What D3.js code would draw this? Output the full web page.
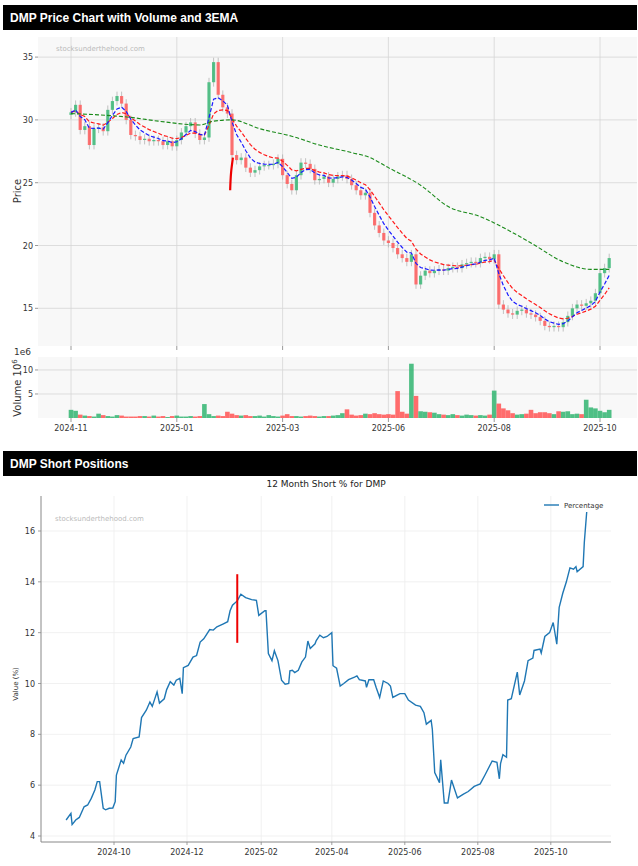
<!DOCTYPE html>
<html><head><meta charset="utf-8">
<script src="https://cdn.jsdelivr.net/npm/d3@7"></script>
<style>body{margin:0;background:#fff;font-family:"DejaVu Sans",sans-serif}</style>
</head><body><svg id="c" width="638" height="866"></svg>
<script>
// ---- Price chart data (sampled trading sessions) ----
const closes = [30.6,31.2,29.2,29.5,28.0,29.3,29.4,29.1,30.8,31.5,31.9,31.3,30.0,28.8,28.7,28.4,28.5,28.3,28.4,28.3,
28.0,28.3,27.9,28.4,29.0,29.5,29.8,28.9,28.4,28.6,33.0,34.6,32.0,31.0,30.5,27.2,26.8,27.0,26.2,25.8,
26.0,26.3,26.4,26.4,26.5,26.9,25.6,24.9,24.4,25.6,26.6,26.5,26.1,25.2,25.3,25.5,25.0,25.3,25.5,25.6,
25.3,24.8,24.4,24.0,24.2,22.6,21.6,21.0,20.4,20.2,19.8,19.3,19.0,18.7,19.3,16.9,17.6,18.0,17.8,18.0,
18.1,18.0,18.2,18.3,18.2,18.5,18.6,18.7,18.6,19.0,19.1,18.9,19.3,15.3,14.9,14.6,14.5,14.8,14.9,14.6,
14.5,14.3,14.0,13.6,13.5,13.6,13.5,13.9,14.4,15.0,15.3,15.2,15.4,15.6,16.2,17.8,18.2,19.0];
const volumes = [1.7,1.5,0.7,0.5,0.4,0.3,0.9,0.6,0.4,0.3,0.6,0.5,0.3,0.3,0.3,0.4,0.4,0.3,0.5,0.3,
0.4,0.2,0.4,0.5,0.3,0.3,0.4,0.3,0.4,2.9,0.8,0.4,0.5,0.4,1.3,0.9,0.6,0.5,0.6,0.4,
0.4,0.5,0.3,0.6,0.4,0.3,0.5,0.8,0.4,0.4,0.3,0.4,0.5,0.4,0.3,0.4,0.4,0.5,0.6,1.0,
1.8,0.7,0.5,0.6,0.9,0.8,1.0,0.8,0.7,0.8,0.7,5.6,1.3,0.9,11.3,4.6,1.4,1.3,1.2,1.1,
0.8,0.7,0.6,0.8,0.6,0.5,0.7,0.6,0.5,0.6,0.5,0.7,5.7,3.0,2.0,1.6,1.0,0.7,0.8,0.9,
1.7,1.0,1.2,1.2,1.0,0.8,1.4,1.3,1.4,0.8,0.9,0.8,3.8,2.2,2.0,1.5,1.2,1.7];
const longEmaIdx = [0,6,13,19,28,31,35,41,48,54,61,65,69,76,82,89,92,100,107,113,117];
const longEmaVal = [30.5,30.4,30.2,29.9,29.6,29.9,30.0,29.3,28.7,28.0,27.4,27.0,26.2,24.8,23.1,22.3,21.8,20.2,18.7,18.1,18.1];
const tickIdx = [0,23,46,69,92,115];
const tickLabels = ["2024-11","2025-01","2025-03","2025-06","2025-08","2025-10"];
const priceTicks = [15,20,25,30,35];
const volTicks = [5,10];
const markIdx = [34.6,34.8,35.2];
const markVal = [24.4,25.8,27.0];

// ---- Short interest data ----
const shortDates = ["2024-08-22","2024-08-26","2024-08-27","2024-08-30","2024-09-02","2024-09-06","2024-09-09","2024-09-12","2024-09-15","2024-09-17",
"2024-09-19","2024-09-22","2024-09-24","2024-09-27","2024-09-30","2024-10-02","2024-10-03","2024-10-07","2024-10-09","2024-10-11",
"2024-10-15","2024-10-17","2024-10-22","2024-10-24","2024-10-28","2024-10-31","2024-11-02","2024-11-06","2024-11-08","2024-11-12",
"2024-11-14","2024-11-17","2024-11-20","2024-11-22","2024-11-25","2024-11-27","2024-11-28","2024-12-02","2024-12-06","2024-12-09",
"2024-12-12","2024-12-15","2024-12-20","2024-12-23","2024-12-26","2024-12-31","2025-01-04","2025-01-06","2025-01-08","2025-01-12",
"2025-01-15","2025-01-19","2025-01-24","2025-01-28","2025-01-30","2025-02-04","2025-02-05","2025-02-07","2025-02-10","2025-02-12",
"2025-02-15","2025-02-18","2025-02-21","2025-02-24","2025-02-25","2025-02-27","2025-03-01","2025-03-04","2025-03-07","2025-03-10",
"2025-03-12","2025-03-14","2025-03-18","2025-03-19","2025-03-22","2025-03-25","2025-03-28","2025-04-01","2025-04-02","2025-04-05",
"2025-04-08","2025-04-11","2025-04-15","2025-04-20","2025-04-22","2025-04-24","2025-04-29","2025-04-30","2025-05-02","2025-05-06",
"2025-05-08","2025-05-11","2025-05-14","2025-05-18","2025-05-20","2025-05-22","2025-05-26","2025-05-28","2025-06-01","2025-06-04",
"2025-06-10","2025-06-14","2025-06-17","2025-06-19","2025-06-23","2025-06-24","2025-06-26","2025-06-30","2025-07-01","2025-07-04",
"2025-07-07","2025-07-10","2025-07-15","2025-07-20","2025-07-24","2025-07-29","2025-08-03","2025-08-07","2025-08-13","2025-08-17",
"2025-08-19","2025-08-20","2025-08-22","2025-08-25","2025-08-26","2025-08-29","2025-09-03","2025-09-05","2025-09-09","2025-09-12",
"2025-09-16","2025-09-17","2025-09-22","2025-09-23","2025-09-26","2025-09-30","2025-10-03","2025-10-06","2025-10-08","2025-10-11",
"2025-10-14","2025-10-17","2025-10-20","2025-10-22","2025-10-23","2025-10-28","2025-10-29","2025-10-31"];
const shortVals = [4.63,4.89,4.45,4.63,4.73,5.15,5.22,5.48,5.81,6.14,
6.14,5.09,5.03,5.09,5.1,5.35,6.4,6.99,6.86,7.18,
7.5,7.83,7.9,8.66,8.95,9.27,9.1,9.67,9.23,9.4,
9.76,10.07,9.94,10.13,10.2,9.6,10.62,10.71,11.04,11.1,
11.63,11.76,12.12,12.1,12.23,12.34,12.43,12.86,13.08,13.25,
13.51,13.38,13.3,13.27,12.68,12.86,12.86,11.18,10.9,11.29,
10.9,10.13,9.97,10.0,10.5,10.52,10.43,10.52,10.85,11.04,
11.67,11.38,11.56,11.69,11.9,11.8,11.85,12.0,10.7,10.6,
9.9,10.0,10.15,10.25,10.3,10.15,10.1,9.85,10.15,10.15,
9.85,9.45,10.1,10.0,9.9,9.45,9.55,9.6,9.6,9.35,
9.15,9.1,8.85,8.4,8.55,8.2,6.5,6.1,7.0,5.3,
5.3,6.2,5.5,5.65,5.75,5.95,6.05,6.4,6.95,6.9,
6.25,6.85,7.2,7.1,9.35,9.4,10.45,9.55,10.1,10.9,
11.0,11.3,11.35,11.2,11.85,12.0,12.4,11.55,13.0,13.55,
14.0,14.55,14.5,14.6,14.4,14.6,15.55,16.75];
const shortTicks = ["2024-10-01","2024-12-01","2025-02-01","2025-04-01","2025-06-01","2025-08-01","2025-10-01"];
const shortYTicks = [4,6,8,10,12,14,16];
const shortMarkDate = "2025-01-12";
const shortMarkRange = [11.6,14.3];

const svg = d3.select("#c");
function header(y, text){
  svg.append("rect").attr("x",3).attr("y",y).attr("width",634).attr("height",25).attr("fill","#000");
  svg.append("text").attr("x",10).attr("y",y+17).attr("fill","#fff").attr("font-size",12).attr("font-weight","bold")
    .attr("font-family","Liberation Sans, Arial").text(text);
}
header(5,"DMP Price Chart with Volume and 3EMA");
header(451,"DMP Short Positions");

const N = closes.length;
const opens = closes.map((c,i)=> i===0 ? 30.4 : closes[i-1]);
const x = d3.scaleLinear().domain([0,N-1]).range([71,609.2]);
const yP = d3.scaleLinear().domain([12.0,36.6]).range([346,37]);
const yV = d3.scaleLinear().domain([0,12.7]).range([418,357]);
const L=38,R=637;

// panels
svg.append("rect").attr("x",L).attr("y",37).attr("width",R-L).attr("height",309).attr("fill","#f8f8f8");
svg.append("rect").attr("x",L).attr("y",357).attr("width",R-L).attr("height",61).attr("fill","#f8f8f8");
const grid = "#d6d6d6";
priceTicks.forEach(t=>{
  svg.append("line").attr("x1",L).attr("x2",R).attr("y1",yP(t)).attr("y2",yP(t)).attr("stroke",grid).attr("stroke-width",0.8);
  svg.append("line").attr("x1",L-3).attr("x2",L).attr("y1",yP(t)).attr("y2",yP(t)).attr("stroke","#555").attr("stroke-width",0.6);
  svg.append("text").attr("x",L-5).attr("y",yP(t)+3).attr("text-anchor","end").attr("font-size",8).attr("fill","#333").text(t);
});
volTicks.forEach(t=>{
  svg.append("line").attr("x1",L).attr("x2",R).attr("y1",yV(t)).attr("y2",yV(t)).attr("stroke",grid).attr("stroke-width",0.8);
  svg.append("line").attr("x1",L-3).attr("x2",L).attr("y1",yV(t)).attr("y2",yV(t)).attr("stroke","#555").attr("stroke-width",0.6);
  svg.append("text").attr("x",L-5).attr("y",yV(t)+3).attr("text-anchor","end").attr("font-size",8).attr("fill","#333").text(t);
});
tickIdx.forEach((t,k)=>{
  const xx=x(t);
  [[37,346],[357,418]].forEach(r=>svg.append("line").attr("x1",xx).attr("x2",xx).attr("y1",r[0]).attr("y2",r[1]).attr("stroke",grid).attr("stroke-width",0.8));
  svg.append("line").attr("x1",xx).attr("x2",xx).attr("y1",346).attr("y2",350).attr("stroke","#555").attr("stroke-width",0.6);
  svg.append("line").attr("x1",xx).attr("x2",xx).attr("y1",418).attr("y2",422).attr("stroke","#555").attr("stroke-width",0.6);
  svg.append("text").attr("x",xx).attr("y",431).attr("text-anchor","middle").attr("font-size",8).attr("fill","#333").text(tickLabels[k]);
});
svg.append("text").attr("x",56).attr("y",51).attr("font-size",7).attr("fill","#bbb").text("stocksunderthehood.com");
svg.append("text").attr("transform","translate(21,191) rotate(-90)").attr("text-anchor","middle").attr("font-size",10).attr("fill","#333").text("Price");
svg.append("text").attr("x",14).attr("y",355).attr("font-size",9).attr("fill","#333").text("1e6");
const vl = svg.append("text").attr("transform","translate(21,388) rotate(-90)").attr("text-anchor","middle").attr("font-size",10).attr("fill","#333");
vl.append("tspan").text("Volume  10");
vl.append("tspan").attr("dy",-4).attr("font-size",7).text("6");

const up="#3cb878", dn="#ff5c5c";
const bw = 3.2;
closes.forEach((c,i)=>{
  const o=opens[i], isUp=c>=o, col=isUp?up:dn;
  const hi=Math.max(o,c)+0.35, lo=Math.min(o,c)-0.35;
  svg.append("line").attr("x1",x(i)).attr("x2",x(i)).attr("y1",yP(hi)).attr("y2",yP(lo)).attr("stroke","#aaa").attr("stroke-width",0.7);
  svg.append("rect").attr("x",x(i)-bw/2).attr("width",bw).attr("y",yP(Math.max(o,c))).attr("height",Math.max(1,Math.abs(yP(o)-yP(c))))
    .attr("fill",col).attr("opacity",0.85);
  svg.append("rect").attr("x",x(i)-2.3).attr("width",4.6).attr("y",yV(volumes[i])).attr("height",yV(0)-yV(volumes[i])).attr("fill",col).attr("opacity",0.9);
});
function ema(arr,span){const a=2/(span+1);let e=arr[0];return arr.map(v=>e=a*v+(1-a)*e);}
const lineP = d3.line().x((d,i)=>x(i)).y(d=>yP(d));
svg.append("path").attr("d",lineP(ema(closes,10))).attr("fill","none").attr("stroke","#ff1a1a").attr("stroke-width",1.2).attr("stroke-dasharray","4,2");
svg.append("path").attr("d",lineP(ema(closes,5))).attr("fill","none").attr("stroke","#1a1aff").attr("stroke-width",1.2).attr("stroke-dasharray","4,2");
svg.append("path").attr("d",d3.line().x((d,i)=>x(longEmaIdx[i])).y(d=>yP(d)).curve(d3.curveMonotoneX)(longEmaVal))
  .attr("fill","none").attr("stroke","#1a8a1a").attr("stroke-width",1.1).attr("stroke-dasharray","4,2");
svg.append("path").attr("d",d3.line().x((d,i)=>x(markIdx[i])).y(d=>yP(d)).curve(d3.curveMonotoneY)(markVal))
  .attr("fill","none").attr("stroke","#ee0000").attr("stroke-width",2.2);

// ---- Short chart ----
const parse=d3.timeParse("%Y-%m-%d");
const xs=d3.scaleTime().domain([parse("2024-10-01"),parse("2024-12-01")]).range([114,187]);
const ys=d3.scaleLinear().domain([4,16]).range([836,531]);
const SL=41,SR=611,ST=496,SB=842;
shortYTicks.forEach(t=>{
  svg.append("line").attr("x1",SL).attr("x2",SR).attr("y1",ys(t)).attr("y2",ys(t)).attr("stroke","#eee").attr("stroke-width",0.8);
  svg.append("line").attr("x1",SL-3).attr("x2",SL).attr("y1",ys(t)).attr("y2",ys(t)).attr("stroke","#777").attr("stroke-width",0.7);
  svg.append("text").attr("x",SL-6).attr("y",ys(t)+3).attr("text-anchor","end").attr("font-size",8).attr("fill","#333").text(t);
});
shortTicks.forEach(t=>{
  const xx=xs(parse(t));
  svg.append("line").attr("x1",xx).attr("x2",xx).attr("y1",ST).attr("y2",SB).attr("stroke","#eee").attr("stroke-width",0.8);
  svg.append("line").attr("x1",xx).attr("x2",xx).attr("y1",SB).attr("y2",SB+3).attr("stroke","#777").attr("stroke-width",0.7);
  svg.append("text").attr("x",xx).attr("y",SB+13).attr("text-anchor","middle").attr("font-size",8).attr("fill","#333").text(t.slice(0,7));
});
svg.append("line").attr("x1",SL).attr("x2",SL).attr("y1",ST).attr("y2",SB).attr("stroke","#888");
svg.append("line").attr("x1",SL).attr("x2",SR).attr("y1",SB).attr("y2",SB).attr("stroke","#888");
svg.append("text").attr("x",326).attr("y",487).attr("text-anchor","middle").attr("font-size",9).attr("fill","#222").text("12 Month Short % for DMP");
svg.append("text").attr("x",55).attr("y",521).attr("font-size",7).attr("fill","#bbb").text("stocksunderthehood.com");
svg.append("text").attr("transform","translate(18,684) rotate(-90)").attr("text-anchor","middle").attr("font-size",7).attr("fill","#333").text("Value (%)");
svg.append("path").attr("d",d3.line().x((d,i)=>xs(parse(shortDates[i]))).y(d=>ys(d))(shortVals))
  .attr("fill","none").attr("stroke","#1f77b4").attr("stroke-width",1.4);
svg.append("line").attr("x1",xs(parse(shortMarkDate))).attr("x2",xs(parse(shortMarkDate)))
  .attr("y1",ys(shortMarkRange[0])).attr("y2",ys(shortMarkRange[1])).attr("stroke","#ee0000").attr("stroke-width",2);
svg.append("line").attr("x1",544).attr("x2",559).attr("y1",505).attr("y2",505).attr("stroke","#1f77b4").attr("stroke-width",1.4);
svg.append("text").attr("x",564).attr("y",508).attr("font-size",7).attr("fill","#333").text("Percentage");
</script></body></html>
